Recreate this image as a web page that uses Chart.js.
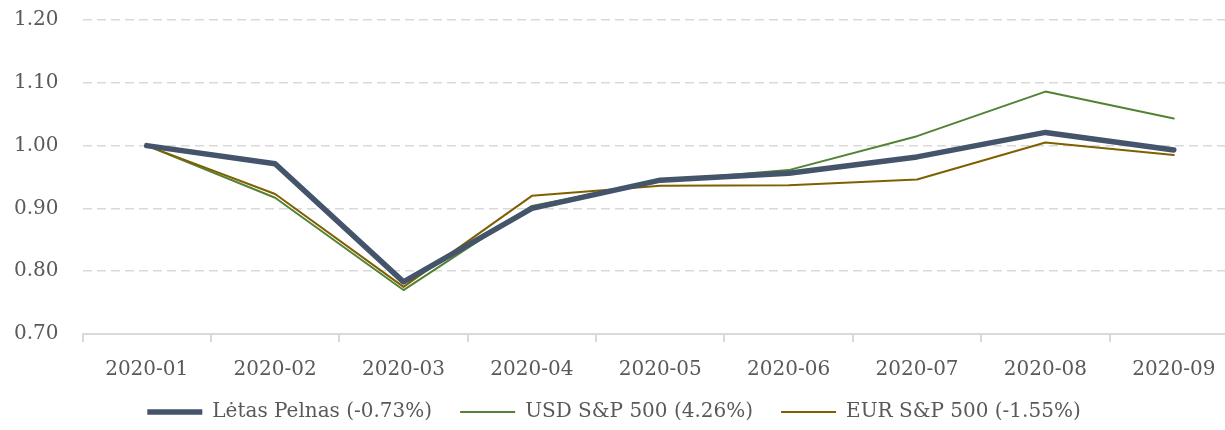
<!DOCTYPE html>
<html>
<head>
<meta charset="utf-8">
<script src="https://cdn.jsdelivr.net/npm/chart.js@4"></script>
<style>
  html, body { margin: 0; padding: 0; background: #fff; overflow: hidden; }
  #wrap { width: 1240px; height: 430px; position: relative; }
</style>
</head>
<body>
<div id="wrap"><canvas id="c"></canvas></div>
<script>
const categories = ['2020-01','2020-02','2020-03','2020-04','2020-05','2020-06','2020-07','2020-08','2020-09'];
const letasPelnas = [1.000, 0.971, 0.783, 0.900, 0.945, 0.956, 0.982, 1.021, 0.993];
const usdSP500   = [1.000, 0.917, 0.770, 0.904, 0.944, 0.961, 1.015, 1.086, 1.043];
const eurSP500   = [1.000, 0.923, 0.775, 0.920, 0.936, 0.937, 0.946, 1.005, 0.985];
const seriesNames = ['Lėtas Pelnas (-0.73%)', 'USD S&P 500 (4.26%)', 'EUR S&P 500 (-1.55%)'];
const yTicks = { min: 0.70, max: 1.20, step: 0.10 };

const FONT = "'DejaVu Serif', 'Liberation Serif', serif";
const TXT = '#595959';

// Legend items are spaced widely (like the reference) while the legend row
// sits closer under the axis labels: shift the legend box up after layout.
const legendShift = {
  id: 'legendShift',
  afterLayout(chart) {
    const l = chart.legend;
    if (l) { l.top -= 24; l.bottom -= 24; }
  }
};

new Chart(document.getElementById('c'), {
  type: 'line',
  data: {
    labels: categories,
    datasets: [
      { label: seriesNames[0], data: letasPelnas, borderColor: '#44546A', backgroundColor: '#44546A',
        borderWidth: 5.5, borderCapStyle: 'round', borderJoinStyle: 'round', order: 0 },
      { label: seriesNames[1], data: usdSP500, borderColor: '#548235', backgroundColor: '#548235',
        borderWidth: 2, borderCapStyle: 'round', borderJoinStyle: 'round', order: 2 },
      { label: seriesNames[2], data: eurSP500, borderColor: '#7F6000', backgroundColor: '#7F6000',
        borderWidth: 2, borderCapStyle: 'round', borderJoinStyle: 'round', order: 1 }
    ]
  },
  plugins: [legendShift],
  options: {
    responsive: true,
    maintainAspectRatio: false,
    animation: false,
    devicePixelRatio: 1,
    elements: { point: { radius: 0, hoverRadius: 0 }, line: { tension: 0 } },
    layout: { padding: { left: -10, right: 2, top: 0, bottom: -26 } },
    plugins: {
      tooltip: { enabled: false },
      legend: {
        position: 'bottom',
        labels: {
          usePointStyle: true,
          pointStyle: 'line',
          pointStyleWidth: 55,
          boxHeight: 20,
          padding: 28,
          color: TXT,
          font: { family: FONT, size: 20 },
          sort: (a, b) => a.datasetIndex - b.datasetIndex
        }
      }
    },
    scales: {
      x: {
        offset: true,
        grid: { offset: true, drawOnChartArea: false, drawTicks: true, tickLength: 8, color: '#d9d9d9', lineWidth: 2 },
        border: { display: true, color: '#d9d9d9', width: 2 },
        ticks: { color: TXT, font: { family: FONT, size: 20 }, padding: 16, maxRotation: 0, autoSkip: false }
      },
      y: {
        min: yTicks.min,
        max: yTicks.max,
        afterFit: (scale) => { scale.paddingTop = 20; },
        border: { display: false, dash: [9, 5] },
        grid: {
          drawTicks: false,
          lineWidth: 1.5,
          color: (ctx) => (ctx.tick && Math.abs(ctx.tick.value - yTicks.min) < 1e-6) ? 'rgba(0,0,0,0)' : '#d9d9d9'
        },
        ticks: {
          stepSize: yTicks.step,
          padding: 24,
          color: TXT,
          font: { family: FONT, size: 20 },
          callback: (v) => Number(v).toFixed(2)
        }
      }
    }
  }
});
</script>
</body>
</html>
